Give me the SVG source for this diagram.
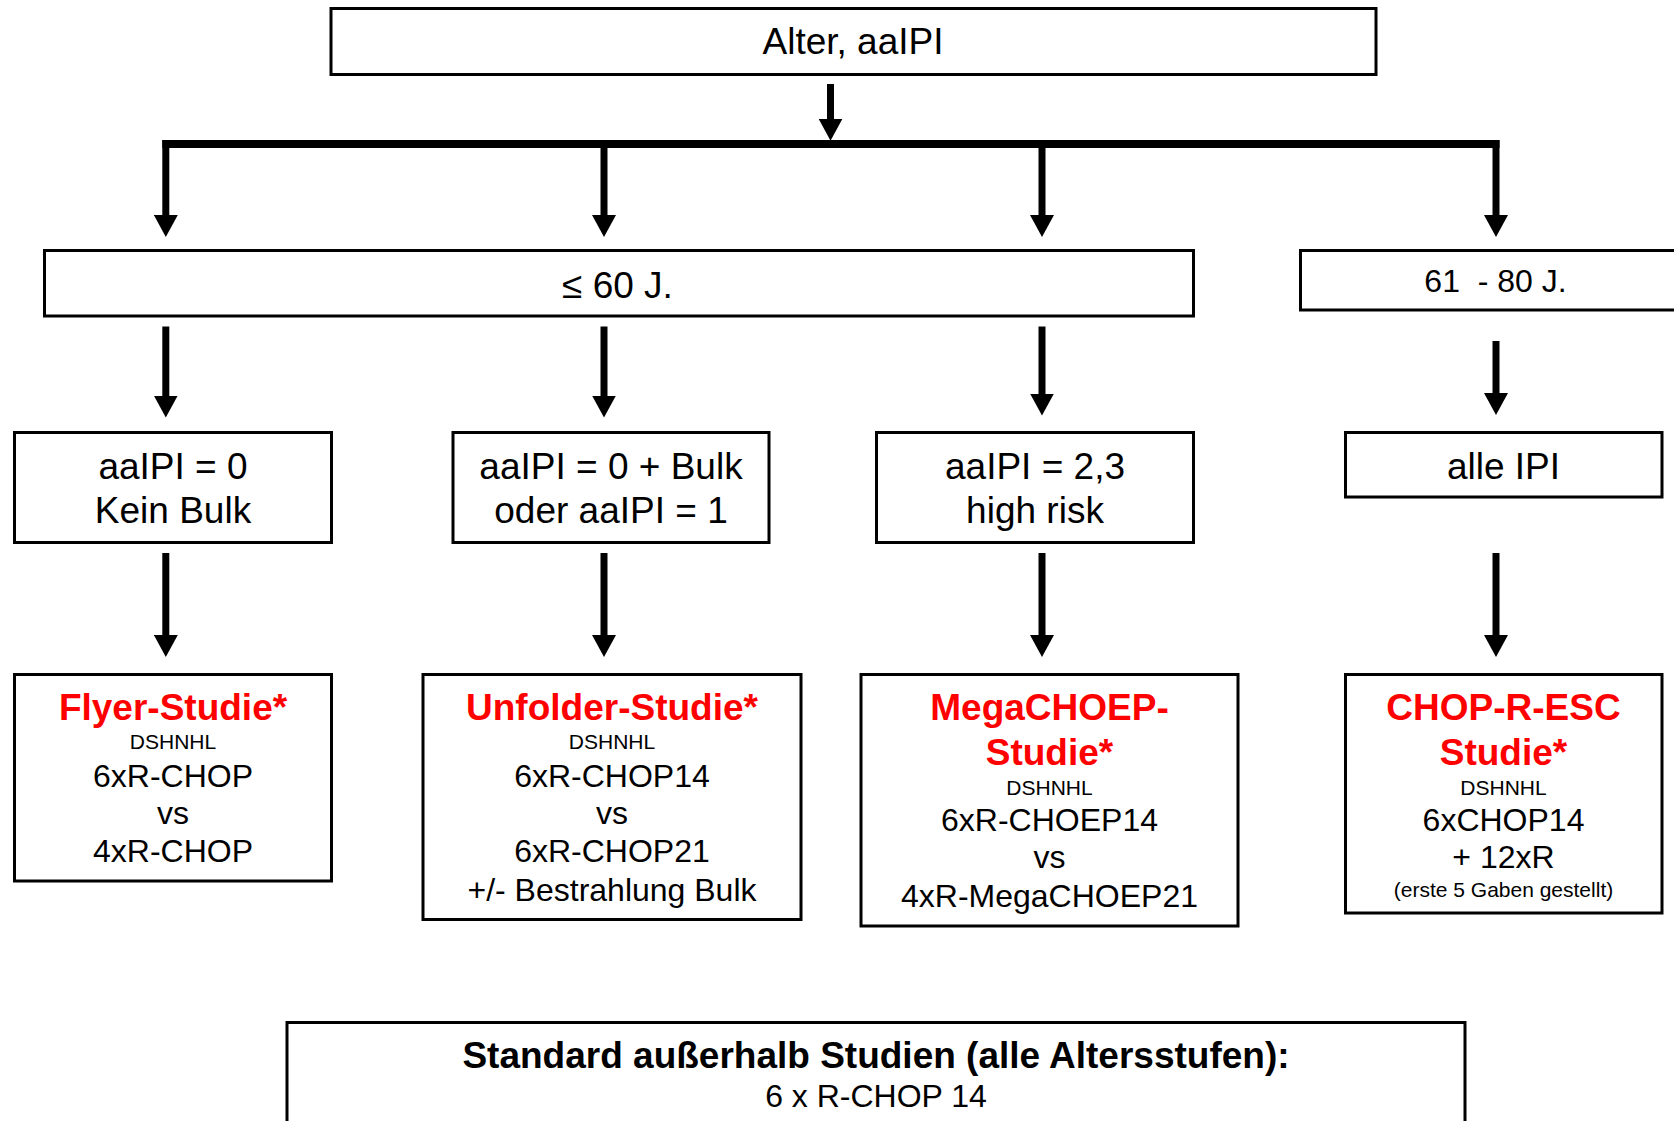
<svg xmlns="http://www.w3.org/2000/svg" width="1674" height="1121" viewBox="0 0 1674 1121">
  <style>
    .box { fill: #ffffff; stroke: #000000; stroke-width: 3; }
    .t { font-family: "Liberation Sans", Arial, Helvetica, sans-serif; text-anchor: middle; fill: #000000; }
    .lg { font-size: 37px; }
    .md { font-size: 32px; }
    .sm { font-size: 21px; }
    .hd { font-size: 37px; font-weight: bold; fill: #ff0000; }
    .bb { font-size: 37px; font-weight: bold; }
    .link { fill: none; stroke: #000000; stroke-width: 7; marker-end: url(#ah); }
    .bar { fill: none; stroke: #000000; stroke-width: 8; }
  </style>
  <defs>
    <marker id="ah" viewBox="0 0 22 24" markerUnits="userSpaceOnUse" markerWidth="22" markerHeight="24" refX="2" refY="12" orient="auto">
      <path d="M0,0 L22,12 L0,24 z" fill="#000000"/>
    </marker>
  </defs>
  <rect width="1674" height="1121" fill="#ffffff"/>

  <!-- connectors -->
  <g id="connectors">
    <path class="link" d="M830.5,84 V120.7"/>
    <path class="bar" d="M162.3,144 H1499.5"/>
    <path class="link" d="M165.8,140 V217"/>
    <path class="link" d="M604,140 V217"/>
    <path class="link" d="M1042,140 V217"/>
    <path class="link" d="M1496,140 V217"/>
    <path class="link" d="M165.8,326.5 V397.5"/>
    <path class="link" d="M604,326.5 V397.5"/>
    <path class="link" d="M1042,326.5 V395.5"/>
    <path class="link" d="M1496,341 V395"/>
    <path class="link" d="M165.8,553 V637"/>
    <path class="link" d="M604,553 V637"/>
    <path class="link" d="M1042,553 V637"/>
    <path class="link" d="M1496,553 V637"/>
  </g>

  <!-- level 1 -->
  <g id="n-alter">
    <rect class="box" x="331" y="8.5" width="1045" height="66"/>
    <text class="t lg" x="853" y="54">Alter, aaIPI</text>
  </g>

  <!-- level 2: age groups -->
  <g id="n-bis60">
    <rect class="box" x="44.5" y="250.5" width="1149" height="65.5"/>
    <text class="t lg" x="617.5" y="298">≤ 60 J.</text>
  </g>
  <g id="n-61-80">
    <rect class="box" x="1300.5" y="250.5" width="420" height="59.5"/>
    <text class="t md" x="1495.5" y="291.5" xml:space="preserve">61  - 80 J.</text>
  </g>

  <!-- level 3: risk groups -->
  <g id="n-ipi0">
    <rect class="box" x="14.5" y="432.5" width="317" height="110"/>
    <text class="t lg" x="173" y="478.5">aaIPI = 0</text>
    <text class="t lg" x="173" y="523">Kein Bulk</text>
  </g>
  <g id="n-ipi01">
    <rect class="box" x="453" y="432.5" width="316" height="110"/>
    <text class="t lg" x="611" y="478.5">aaIPI = 0 + Bulk</text>
    <text class="t lg" x="611" y="523">oder aaIPI = 1</text>
  </g>
  <g id="n-ipi23">
    <rect class="box" x="876.5" y="432.5" width="317" height="110"/>
    <text class="t lg" x="1035" y="478.5">aaIPI = 2,3</text>
    <text class="t lg" x="1035" y="523">high risk</text>
  </g>
  <g id="n-alle">
    <rect class="box" x="1345.5" y="432.5" width="316.5" height="64.5"/>
    <text class="t lg" x="1503.5" y="478.5">alle IPI</text>
  </g>

  <!-- level 4: trials -->
  <g id="n-flyer">
    <rect class="box" x="14.5" y="674.5" width="317" height="206.5"/>
    <text class="t hd" x="173" y="720">Flyer-Studie*</text>
    <text class="t sm" x="173" y="749">DSHNHL</text>
    <text class="t md" x="173" y="786.5">6xR-CHOP</text>
    <text class="t md" x="173" y="824">vs</text>
    <text class="t md" x="173" y="861.5">4xR-CHOP</text>
  </g>
  <g id="n-unfolder">
    <rect class="box" x="423" y="674.5" width="378" height="245"/>
    <text class="t hd" x="612" y="720">Unfolder-Studie*</text>
    <text class="t sm" x="612" y="749">DSHNHL</text>
    <text class="t md" x="612" y="786.5">6xR-CHOP14</text>
    <text class="t md" x="612" y="824">vs</text>
    <text class="t md" x="612" y="861.5">6xR-CHOP21</text>
    <text class="t md" x="612" y="900.5">+/- Bestrahlung Bulk</text>
  </g>
  <g id="n-megachoep">
    <rect class="box" x="861" y="674.5" width="377" height="251.5"/>
    <text class="t hd" x="1049.5" y="720">MegaCHOEP-</text>
    <text class="t hd" x="1049.5" y="765">Studie*</text>
    <text class="t sm" x="1049.5" y="795">DSHNHL</text>
    <text class="t md" x="1049.5" y="831">6xR-CHOEP14</text>
    <text class="t md" x="1049.5" y="868">vs</text>
    <text class="t md" x="1049.5" y="906.5">4xR-MegaCHOEP21</text>
  </g>
  <g id="n-chop-r-esc">
    <rect class="box" x="1345.5" y="674.5" width="316.5" height="238.5"/>
    <text class="t hd" x="1503.5" y="720">CHOP-R-ESC</text>
    <text class="t hd" x="1503.5" y="765">Studie*</text>
    <text class="t sm" x="1503.5" y="795">DSHNHL</text>
    <text class="t md" x="1503.5" y="831">6xCHOP14</text>
    <text class="t md" x="1503.5" y="868">+ 12xR</text>
    <text class="t sm" x="1503.5" y="896.5">(erste 5 Gaben gestellt)</text>
  </g>

  <!-- standard outside trials -->
  <g id="n-standard">
    <rect class="box" x="287" y="1022.5" width="1178" height="130"/>
    <text class="t bb" x="876" y="1068">Standard außerhalb Studien (alle Altersstufen):</text>
    <text class="t md" x="876" y="1107">6 x R-CHOP 14</text>
  </g>
</svg>
